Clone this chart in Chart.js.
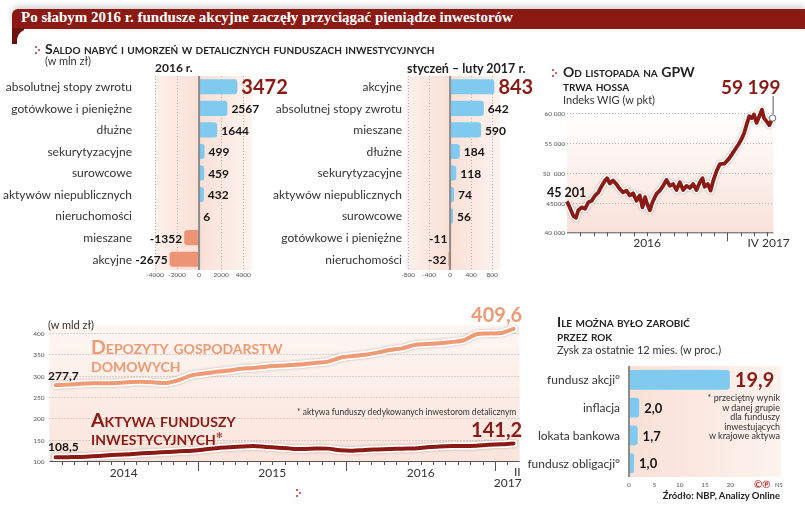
<!DOCTYPE html>
<html><head><meta charset="utf-8">
<script src="https://cdn.jsdelivr.net/npm/chart.js@4.4.1/dist/chart.umd.min.js"></script>
<style>
html,body{margin:0;padding:0}
body{width:805px;height:506px;position:relative;background:#fff;font-family:Lato,"Open Sans",sans-serif;overflow:hidden;color:#222}
.t{position:absolute;white-space:nowrap;line-height:1.2;z-index:3}
.sc{font-variant:small-caps;font-weight:bold}
canvas{position:absolute;z-index:1}
.dot{position:absolute;width:2px;height:2px;background:#c0272d;border-radius:1px;z-index:3}
</style></head><body>

<div style="position:absolute;left:12px;top:9px;width:793px;height:20px;background:#8b1a14;border-top-left-radius:6px;box-shadow:0 -3px 6px rgba(0,0,0,0.18)"></div>
<div style="position:absolute;left:12px;top:28px;width:12px;height:16px;background:#6e120e"></div>
<div style="position:absolute;left:17px;top:29px;width:40px;height:30px;background:#fff;border-top-left-radius:12px"></div>
<div class="t" style="left:21px;top:9px;line-height:20px;font:bold 15px 'Liberation Serif',serif;color:#fff">Po słabym 2016 r. fundusze akcyjne zaczęły przyciągać pieniądze inwestorów</div>

<div class="dot" style="left:35px;top:46px"></div><div class="dot" style="left:38px;top:49px"></div><div class="dot" style="left:35px;top:52px"></div>
<div class="t sc" style="left:45px;top:41px;font-size:14px">Saldo nabyć i umorzeń w detalicznych funduszach inwestycyjnych</div>
<div class="t" style="left:45px;top:54px;font-size:11px;color:#333">(w mln zł)</div>
<div class="t" style="left:155px;top:61px;font-size:12px;font-weight:bold">2016 r.</div>
<div class="t" style="left:407px;top:61px;font-size:12.5px;font-weight:bold">styczeń – luty 2017 r.</div>

<div class="dot" style="left:552px;top:69px"></div><div class="dot" style="left:555px;top:72px"></div><div class="dot" style="left:552px;top:75px"></div>
<div class="t sc" style="left:563px;top:64px;font-size:14px">Od listopada na GPW</div>
<div class="t sc" style="left:563px;top:78px;font-size:14px">trwa hossa</div>
<div class="t" style="left:563px;top:93px;font-size:11px;color:#333">Indeks WIG (w pkt)</div>

<div class="t" style="left:48px;top:318px;font-size:11px;color:#333">(w mld zł)</div>
<div class="t sc" style="left:91px;top:338px;font-size:19.5px;line-height:17.5px;color:#ee9a74">Depozyty gospodarstw<br>domowych</div>
<div class="t sc" style="left:91px;top:411px;font-size:19.5px;line-height:17.5px;color:#8b1a14">Aktywa funduszy<br>inwestycyjnych<sup style="font-size:8px;font-family:'DejaVu Sans';line-height:0">✻</sup></div>
<div class="t" style="left:297px;top:407px;font-size:8.5px;color:#333">* aktywa funduszy dedykowanych inwestorom detalicznym</div>
<div class="dot" style="left:296px;top:489px"></div><div class="dot" style="left:299px;top:492px"></div><div class="dot" style="left:296px;top:495px"></div>

<div class="t sc" style="left:557px;top:314px;font-size:14px">Ile można było zarobić</div>
<div class="t sc" style="left:557px;top:328px;font-size:14px">przez rok</div>
<div class="t" style="left:557px;top:343px;font-size:11px;color:#333">Zysk za ostatnie 12 mies. (w proc.)</div>
<div class="t" style="right:25px;top:393px;font-size:9px;line-height:9.6px;text-align:right;color:#333">* przeciętny wynik<br>w danej grupie<br>dla funduszy<br>inwestujących<br>w krajowe aktywa</div>
<div class="t" style="left:754px;top:478px;font-size:10px;font-weight:bold;color:#d0312d">©℗</div>
<div class="t" style="left:775px;top:481px;font-size:6px;color:#555">NS</div>
<div class="t" style="right:25px;top:490px;font-size:9.5px;font-weight:bold;color:#222">Źródło: NBP, Analizy Online</div>

<canvas id="c1" width="300" height="230" style="left:0;top:60px;width:300px;height:230px"></canvas>
<canvas id="c2" width="270" height="230" style="left:270px;top:60px;width:270px;height:230px"></canvas>
<canvas id="c3" width="270" height="185" style="left:535px;top:70px;width:270px;height:185px"></canvas>
<canvas id="c4" width="540" height="200" style="left:0;top:300px;width:540px;height:200px"></canvas>
<canvas id="c5" width="285" height="150" style="left:520px;top:355px;width:285px;height:150px"></canvas>

<script>
// ---------- DATA ----------
const cats2016 = ['absolutnej stopy zwrotu','gotówkowe i pieniężne','dłużne','sekurytyzacyjne','surowcowe','aktywów niepublicznych','nieruchomości','mieszane','akcyjne'];
const vals2016 = [3472,2567,1644,499,459,432,6,-1352,-2675];
const ticks2016 = [-4000,-2000,0,2000,4000];

const cats2017 = ['akcyjne','absolutnej stopy zwrotu','mieszane','dłużne','sekurytyzacyjne','aktywów niepublicznych','surowcowe','gotówkowe i pieniężne','nieruchomości'];
const vals2017 = [843,642,590,184,118,74,56,-11,-32];
const ticks2017 = [-800,-400,0,400,800];

// WIG: position in months from 1 Jan 2016, index value
const wigMonth = [0,0.2,0.47,0.67,0.85,1.1,1.35,1.6,1.85,2.1,2.35,2.6,2.85,3.0,3.2,3.45,3.7,3.95,4.2,4.45,4.7,4.95,5.2,5.45,5.65,5.85,6.0,6.2,6.4,6.7,6.95,7.2,7.45,7.7,7.95,8.2,8.45,8.7,8.95,9.2,9.45,9.7,9.95,10.15,10.3,10.55,10.75,10.95,11.2,11.45,11.8,12.1,12.35,12.6,12.85,13.1,13.27,13.45,13.65,13.85,14.0,14.2,14.4,14.6,14.75,14.95,15.15,15.4];
const wigValue = [45201,44200,42800,42450,43700,44200,43950,45050,45300,46170,46700,47800,48700,49100,48200,48700,48100,47300,46700,47000,46200,46550,45300,46200,44200,45900,44800,43700,45050,46450,47000,47800,48800,47800,48100,47100,48400,47100,47800,47450,48100,47100,48400,49100,47650,48100,47000,48650,50300,51450,51550,52300,53100,53950,54800,55800,56700,58100,59500,59200,59800,58400,59500,60600,59200,58650,58000,59199];
const wigTicks = [40000,45000,50000,55000,60000];
const wigTickLabels = ['40 000','45000','50  000','55 000','60 000'];
const wigXLabels = ['2016','IV 2017'];

// monthly, Jan 2014 – Feb 2017 (bn zł)
const depositValues = [277.7,279,281,282,282,283,285,286,284,283,290,301,305,309,312,316,318,321,323,325,327,330,333,342,346,349,354,360,364,372,374,376,379,383,397,399,400,409.6];
const fundValues = [108.5,109,109.5,111,113,114.5,116,118,119.5,121,123,124,127,130,132,134,135,133,131,129,128,129.5,129,125,124,126,127,128,129,129.5,132,134,135,135,136,138,139,141.2];
const depYTicks = [100,150,200,250,300,350,400];
const depYears = ['2014','2015','2016'];

const gainCats = ['fundusz akcji°','inflacja','lokata bankowa','fundusz obligacji°'];
const gainVals = [19.9,2.0,1.7,1.0];
const gainTicks = [0,5,10,15,20];

// ---------- STYLE ----------
const BLUE='#80caf0', SALMON='#ee9476', DARK='#8b1a14', PEACH='#ee9a74';
const F='Lato, "Open Sans", sans-serif';
Chart.defaults.font.family = F;

function dotted(ctx,x1,y1,x2,y2,color){ctx.save();ctx.strokeStyle=color;ctx.lineWidth=1;ctx.setLineDash([1,2]);ctx.beginPath();ctx.moveTo(x1,y1);ctx.lineTo(x2,y2);ctx.stroke();ctx.restore();}

const hbarDecor = {
  id:'hbarDecor',
  beforeDatasetsDraw(chart,args,o){
    const {ctx, chartArea:a, scales:{x}} = chart;
    ctx.save();
    const x0 = x.getPixelForValue(0);
    const g = ctx.createLinearGradient(a.left,0,a.right,0);
    const f0 = Math.min(1,Math.max(0,(x0-a.left)/(a.right-a.left)));
    g.addColorStop(0,'rgb(252,240,235)');
    g.addColorStop(f0,'rgb(249,224,214)');
    g.addColorStop(1,'rgb(253,243,239)');
    ctx.fillStyle=g; ctx.fillRect(a.left,a.top,a.right-a.left,a.bottom-a.top);
    if(o.grid) o.ticks.forEach(v=>{ if(v!==0){const px=Math.round(x.getPixelForValue(v))+0.5; dotted(ctx,px,a.top,px,a.bottom,'#bfb0ab');}});
    ctx.restore();
  },
  afterDatasetsDraw(chart,args,o){
    const {ctx, chartArea:a, scales:{x,y}} = chart;
    const x0 = x.getPixelForValue(0);
    ctx.save();
    ctx.strokeStyle='#8c8c8c'; ctx.lineWidth=2; ctx.beginPath(); ctx.moveTo(x0,a.top); ctx.lineTo(x0,a.bottom); ctx.stroke();
    ctx.textBaseline='middle';
    ctx.font = o.catSize+'px '+F; ctx.fillStyle='#333'; ctx.textAlign='right';
    chart.data.labels.forEach((c,i)=>ctx.fillText(c, a.left-o.catGap, y.getPixelForValue(i)+0.5));
    ctx.font = '6.5px '+F; ctx.fillStyle='#555'; ctx.textAlign='center';
    o.ticks.forEach(v=>ctx.fillText(String(v), x.getPixelForValue(v), a.bottom+o.tickOff));
    const meta = chart.getDatasetMeta(0); const data = chart.data.datasets[0].data;
    meta.data.forEach((bar,i)=>{
      const v=data[i]; const big = i===0;
      ctx.font = 'bold '+(big?o.bigSize:o.valSize)+'px '+F;
      ctx.fillStyle = big? DARK : '#151515';
      if(v>=0){ctx.textAlign='left'; ctx.fillText(o.fmt(v), bar.x+o.gap, bar.y+1);}
      else {ctx.textAlign='right'; ctx.fillText(o.fmt(v), bar.x-2, bar.y+1);}
    });
    ctx.restore();
  }
};

function hbar(id, cats, vals, o){
  return new Chart(document.getElementById(id), {
    type:'bar',
    data:{labels:cats, datasets:[{data:vals, backgroundColor: vals.map(v=>v>=0?BLUE:SALMON), borderRadius:3, borderSkipped:'start', categoryPercentage:o.cp, barPercentage:1}]},
    options:{
      indexAxis:'y', responsive:false, animation:false, events:[], devicePixelRatio:1,
      layout:{padding:o.pad},
      plugins:{legend:{display:false}, tooltip:{enabled:false}, hbarDecor:o},
      scales:{
        x:{type:'linear', display:false, min:o.min, max:o.max},
        y:{type:'category', display:false}
      }
    },
    plugins:[hbarDecor]
  });
}

const intFmt = v=>String(v);
hbar('c1', cats2016, vals2016, {pad:{left:155,top:16,right:48,bottom:20}, min:-4000, max:4800, ticks:ticks2016, grid:true, cp:0.7, catSize:12, catGap:23, tickOff:5, valSize:12, bigSize:20, gap:4, fmt:intFmt});
hbar('c2', cats2017, vals2017, {pad:{left:136.5,top:16,right:40,bottom:20}, min:-830, max:950, ticks:ticks2017, grid:true, cp:0.7, catSize:12, catGap:4.5, tickOff:5, valSize:12, bigSize:20, gap:4, fmt:intFmt});
hbar('c5', gainCats, gainVals, {pad:{left:109,top:11,right:24,bottom:28}, min:0, max:30, ticks:gainTicks, grid:false, cp:0.72, catSize:12, catGap:9, tickOff:8, valSize:13, bigSize:20, gap:5, fmt:v=>v.toFixed(1).replace('.',',')});

// shadowed white outlines for lines
const outlineShadow = {
  id:'outlineShadow',
  beforeDatasetDraw(chart,args){ const ds=chart.data.datasets[args.index]; chart.ctx.save(); if(ds.outline){chart.ctx.shadowColor='rgba(0,0,0,0.28)'; chart.ctx.shadowBlur=2.5;} },
  afterDatasetDraw(chart){ chart.ctx.restore(); }
};
const spaced = v=>String(v).replace(/\B(?=(\d{3})+(?!\d))/g,' ');

const wigDecor = {
  id:'wigDecor',
  beforeDatasetsDraw(chart){
    const {ctx, chartArea:a, scales:{x,y}} = chart;
    ctx.save();
    const g = ctx.createLinearGradient(0,a.top,0,a.bottom);
    g.addColorStop(0,'rgba(255,255,255,1)'); g.addColorStop(1,'rgb(249,225,216)');
    ctx.fillStyle=g; ctx.fillRect(a.left,a.top,a.right-a.left,a.bottom-a.top);
    wigTicks.forEach((v,i)=>{ const py=Math.round(y.getPixelForValue(v))+0.5; if(i>0) dotted(ctx,a.left,py,a.right,py,'#b5b5b5');
      ctx.font='6.5px '+F; ctx.fillStyle='#555'; ctx.textAlign='right'; ctx.textBaseline='middle'; ctx.fillText(wigTickLabels[i], a.left-2, py); });
    ctx.restore();
  },
  afterDatasetsDraw(chart){
    const {ctx, chartArea:a, scales:{x,y}} = chart;
    ctx.save();
    ctx.strokeStyle='#555'; ctx.lineWidth=1;
    ctx.beginPath(); ctx.moveTo(a.left,a.bottom+0.5); ctx.lineTo(a.right,a.bottom+0.5); ctx.stroke();
    for(let m=1;m<=15;m++){ const px=Math.round(x.getPixelForValue(m))+0.5; ctx.beginPath(); ctx.moveTo(px,a.bottom); ctx.lineTo(px,a.bottom+(m===12?9:4)); ctx.stroke(); }
    const meta = chart.getDatasetMeta(0); const last = meta.data[meta.data.length-1]; const first = meta.data[0];
    ctx.font='12px '+F; ctx.fillStyle='#333'; ctx.textAlign='center'; ctx.textBaseline='middle';
    ctx.fillText(wigXLabels[0], x.getPixelForValue(6), a.bottom+11);
    ctx.fillText(wigXLabels[1], last.x-4, a.bottom+11);
    ctx.beginPath(); ctx.moveTo(last.x+0.5, last.y-4); ctx.lineTo(last.x+0.5, last.y-22); ctx.stroke();
    ctx.beginPath(); ctx.arc(last.x,last.y,3.2,0,Math.PI*2); ctx.fillStyle='#fff'; ctx.fill(); ctx.strokeStyle='#666'; ctx.stroke();
    ctx.font='bold 19px '+F; ctx.fillStyle=DARK; ctx.textAlign='right';
    ctx.fillText(spaced(wigValue[wigValue.length-1]), last.x+8, last.y-30);
    ctx.font='bold 12.5px '+F; ctx.fillStyle='#151515'; ctx.textAlign='left';
    ctx.fillText(spaced(wigValue[0]), a.left-20, first.y-8);
    ctx.restore();
  }
};

const wigPts = wigMonth.map((m,i)=>({x:m,y:wigValue[i]}));
new Chart(document.getElementById('c3'), {
  type:'line',
  data:{datasets:[
    {data:wigPts, borderColor:DARK, borderWidth:3.8, pointRadius:0, tension:0, clip:false, borderJoinStyle:'round'},
    {data:wigPts, borderColor:'#fff', borderWidth:6.5, pointRadius:0, tension:0, clip:false, borderJoinStyle:'round', outline:true}
  ]},
  options:{responsive:false, animation:false, events:[], devicePixelRatio:1,
    layout:{padding:{left:32,top:43.3,right:31.7,bottom:22.7}},
    plugins:{legend:{display:false},tooltip:{enabled:false}},
    scales:{x:{type:'linear',display:false,min:0,max:15.45}, y:{type:'linear',display:false,min:40000,max:60000}}},
  plugins:[wigDecor, outlineShadow]
});

const depDecor = {
  id:'depDecor',
  beforeDatasetsDraw(chart){
    const {ctx, chartArea:a, scales:{x,y}} = chart;
    ctx.save();
    const g = ctx.createLinearGradient(0,a.top-8,0,a.bottom);
    g.addColorStop(0,'rgba(254,246,243,1)'); g.addColorStop(1,'rgb(250,228,219)');
    ctx.fillStyle=g; ctx.fillRect(a.left,a.top-8,a.right-a.left,a.bottom-a.top+8);
    depYTicks.forEach((v,i)=>{ const py=Math.round(y.getPixelForValue(v))+0.5; if(i>0) dotted(ctx,a.left,py,a.right,py,'#b8b0ad');
      ctx.font='6.5px '+F; ctx.fillStyle='#555'; ctx.textAlign='right'; ctx.textBaseline='middle'; ctx.fillText(String(v), a.left-5, py); });
    ctx.restore();
  },
  afterDatasetsDraw(chart){
    const {ctx, chartArea:a, scales:{x,y}} = chart;
    ctx.save();
    ctx.strokeStyle='#555'; ctx.lineWidth=1;
    ctx.beginPath(); ctx.moveTo(a.left,a.bottom+0.5); ctx.lineTo(a.right,a.bottom+0.5); ctx.stroke();
    for(let m=1;m<=37;m++){ const px=Math.round(x.getPixelForValue(m))+0.5; ctx.beginPath(); ctx.moveTo(px,a.bottom); ctx.lineTo(px,a.bottom+(m%12===0?10:4)); ctx.stroke(); }
    ctx.font='12px '+F; ctx.fillStyle='#333'; ctx.textAlign='center'; ctx.textBaseline='middle';
    depYears.forEach((t,i)=>ctx.fillText(t, x.getPixelForValue(6+12*i), a.bottom+12));
    ctx.textAlign='right';
    ctx.fillText('II', a.right+1, a.bottom+11);
    ctx.fillText('2017', a.right+2, a.bottom+22);
    const d = chart.getDatasetMeta(2).data, f = chart.getDatasetMeta(0).data;
    ctx.font='bold 12px '+F; ctx.fillStyle='#151515'; ctx.textAlign='left';
    ctx.fillText(String(depositValues[0]).replace('.',','), a.left-1.5, d[0].y-9.5);
    ctx.fillText(String(fundValues[0]).replace('.',','), a.left-1.5, f[0].y-10);
    ctx.font='bold 20px '+F; ctx.textAlign='right';
    ctx.fillStyle=PEACH; ctx.fillText(String(depositValues[depositValues.length-1]).replace('.',','), a.right+2.5, d[d.length-1].y-13);
    ctx.fillStyle=DARK; ctx.fillText(String(fundValues[fundValues.length-1]).replace('.',','), a.right+2.5, f[f.length-1].y-13);
    ctx.restore();
  }
};
const depPts = depositValues.map((v,i)=>({x:i+0.5,y:v}));
const fundPts = fundValues.map((v,i)=>({x:i+0.5,y:v}));
new Chart(document.getElementById('c4'), {
  type:'line',
  data:{datasets:[
    {data:fundPts, borderColor:DARK, borderWidth:4, pointRadius:0, tension:0.3, clip:false, borderCapStyle:'round'},
    {data:fundPts, borderColor:'#fff', borderWidth:7.5, pointRadius:0, tension:0.3, clip:false, borderCapStyle:'round', outline:true},
    {data:depPts, borderColor:PEACH, borderWidth:4, pointRadius:0, tension:0.3, clip:false, borderCapStyle:'round'},
    {data:depPts, borderColor:'#fff', borderWidth:7.5, pointRadius:0, tension:0.3, clip:false, borderCapStyle:'round', outline:true}
  ]},
  options:{responsive:false, animation:false, events:[], devicePixelRatio:1,
    layout:{padding:{left:49.5,top:33,right:20.3,bottom:39}},
    plugins:{legend:{display:false},tooltip:{enabled:false}},
    scales:{x:{type:'linear',display:false,min:0,max:38}, y:{type:'linear',display:false,min:100,max:400}}},
  plugins:[depDecor, outlineShadow]
});
</script>
</body></html>
